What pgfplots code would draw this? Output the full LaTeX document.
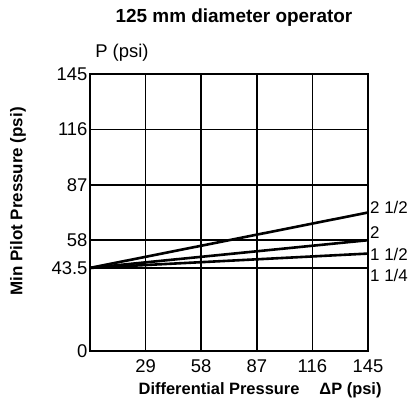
\documentclass[border=0pt]{standalone}
\usepackage{pgfplots}
\pgfplotsset{compat=1.18}
\usepackage{fontspec}
\setmainfont{Liberation Sans}
\begin{document}
\begin{tikzpicture}
\useasboundingbox (-90bp,-51bp) rectangle (324bp,351bp);
\begin{axis}[
  at={(0,0)}, anchor=south west,
  width=278bp, height=277bp, scale only axis,
  xmin=0, xmax=145, ymin=0, ymax=145,
  xtick={29,58,87,116,145},
  ytick={0,43.5,58,87,116,145},
  yticklabels={0,43.5,58,87,116,145},
  xticklabels={29,58,87,116,145},
  major tick length=0pt,
  grid=major,
  grid style={black, line width=1.7bp},
  axis line style={black, line width=2bp},
  /pgf/number format/assume math mode=true,
  tick label style={font=\fontsize{18.5}{20}\selectfont},
  xticklabel style={yshift=-5bp},
  yticklabel style={xshift=1bp},
  clip=false,
]
\addplot[black, line width=2.6bp] coordinates {(0,43.5) (145,72.5)};
\addplot[black, line width=2.6bp] coordinates {(0,43.5) (145,58)};
\addplot[black, line width=2.6bp] coordinates {(0,43.5) (145,51)};
\addplot[black, line width=2.6bp] coordinates {(0,43.5) (145,43.5)};
\node[anchor=west, font=\fontsize{17}{19}\selectfont, inner sep=0pt] at (axis cs:145,75.4) {\hspace{2bp}2 1/2};
\node[anchor=west, font=\fontsize{17}{19}\selectfont, inner sep=0pt] at (axis cs:145,61.8) {\hspace{2bp}2};
\node[anchor=west, font=\fontsize{17}{19}\selectfont, inner sep=0pt] at (axis cs:145,50.8) {\hspace{2bp}1 1/2};
\node[anchor=west, font=\fontsize{17}{19}\selectfont, inner sep=0pt] at (axis cs:145,39.3) {\hspace{2bp}1 1/4};
\node[font=\bfseries\fontsize{19}{21}\selectfont, inner sep=0pt] at (rel axis cs:0.518,1.202) {125 mm diameter operator};
\node[font=\fontsize{18.5}{20}\selectfont, inner sep=0pt] at (rel axis cs:0.115,1.076) {P (psi)};
\node[font=\bfseries\fontsize{17}{20}\selectfont, inner sep=0pt, rotate=90] at (rel axis cs:-0.259,0.54) {Min Pilot Pressure (psi)};
\node[font=\bfseries\fontsize{16.5}{20}\selectfont, inner sep=0pt] at (rel axis cs:0.612,-0.141) {Differential Pressure\hspace{20bp}ΔP (psi)};
\end{axis}
\end{tikzpicture}
\end{document}
